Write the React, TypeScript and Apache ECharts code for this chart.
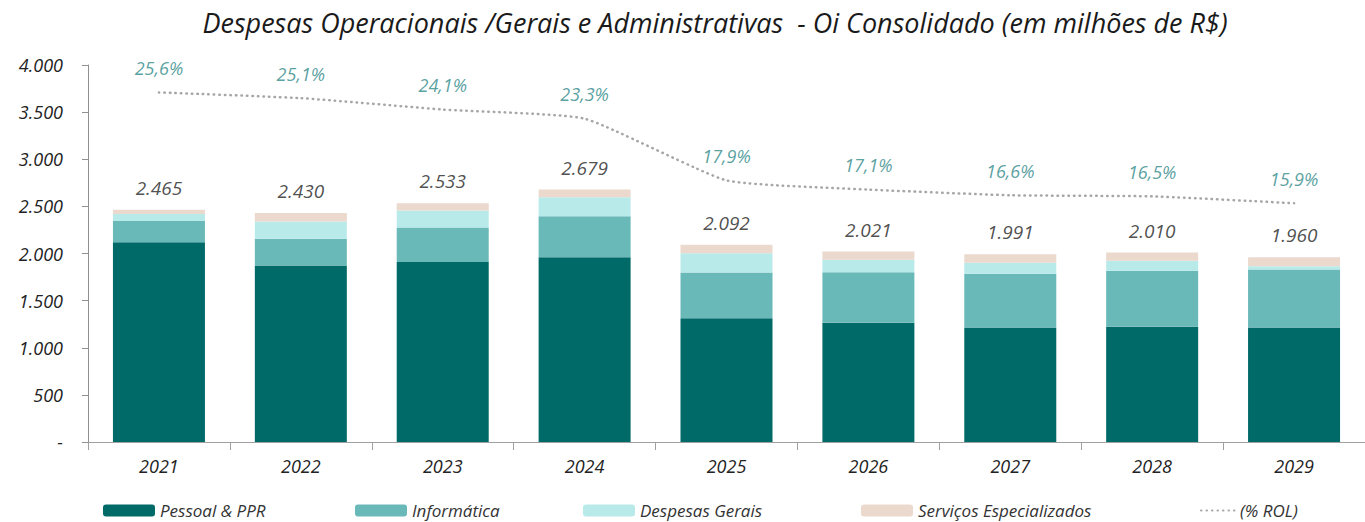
import React, { useEffect, useRef } from "react";
import * as echarts from "echarts";

const categories = ["2021", "2022", "2023", "2024", "2025", "2026", "2027", "2028", "2029"];
const pessoal = [2120, 1872, 1911, 1961, 1312, 1266, 1216, 1223, 1216];
const informatica = [224, 284, 366, 433, 486, 535, 568, 593, 614];
const despesasGerais = [74, 184, 180, 202, 205, 132, 117, 106, 35];
const servicos = [47, 90, 76, 83, 89, 88, 90, 88, 95];
const rol = [25.6, 25.1, 24.1, 23.3, 17.9, 17.1, 16.6, 16.5, 15.9];
const yTicks = [0, 500, 1000, 1500, 2000, 2500, 3000, 3500, 4000];

const FONT = "Open Sans";
const fmtNum = (v: number) => String(Math.round(v)).replace(/\B(?=(\d{3})+(?!\d))/g, ".");
const fmtPct = (v: number) => v.toFixed(1).replace(".", ",") + "%";

export default function App() {
  const ref = useRef<HTMLDivElement>(null);
  useEffect(() => {
    if (!ref.current) return;
    const chart = echarts.init(ref.current, undefined, { renderer: "svg" });
    const totals = categories.map((_, i) => pessoal[i] + informatica[i] + despesasGerais[i] + servicos[i]);
    const legendText = { fontFamily: FONT, fontStyle: "italic", fontSize: 17, color: "#333" };
    const mkLegend = (name: string, left: number, w = 52, extra: any = {}) => ({
      data: [name],
      left,
      top: 502,
      padding: 0,
      itemWidth: w,
      itemHeight: 12,
      itemGap: 0,
      textStyle: legendText,
      selectedMode: false,
      ...extra,
    });
    const barCommon = { type: "bar", stack: "total", barWidth: 92, emphasis: { disabled: true } };
    chart.setOption({
      animation: false,
      graphic: [
        {
          type: "text",
          x: 715,
          y: 9,
          style: {
            text: "Despesas Operacionais /Gerais e Administrativas  - Oi Consolidado (em milhões de R$)",
            textAlign: "center",
            fontFamily: FONT,
            fontStyle: "italic",
            fontSize: 27,
            fill: "#1a1a1a",
          },
        },
      ],
      legend: [
        mkLegend("Pessoal & PPR", 103),
        mkLegend("Informática", 355),
        mkLegend("Despesas Gerais", 583),
        mkLegend("Serviços Especializados", 861),
        mkLegend("(% ROL)", 1200, 34, { itemStyle: { opacity: 0 } }),
      ],
      grid: { left: 88, right: -17, top: 65, bottom: 80 },
      xAxis: {
        type: "category",
        data: categories,
        axisLine: { lineStyle: { color: "#a0a0a0", width: 1 } },
        axisTick: { show: true, length: 8, lineStyle: { color: "#a0a0a0" } },
        axisLabel: { fontFamily: FONT, fontStyle: "italic", fontSize: 18, color: "#222", margin: 15 },
      },
      yAxis: [
        {
          type: "value",
          min: 0,
          max: 4000,
          interval: 500,
          splitLine: { show: false },
          axisLine: { show: true, lineStyle: { color: "#909090" } },
          axisTick: { show: true, length: 6, lineStyle: { color: "#909090" } },
          axisLabel: {
            fontFamily: FONT,
            fontStyle: "italic",
            fontSize: 18,
            color: "#222",
            margin: 25,
            customValues: yTicks,
            formatter: (v: number) => (v === 0 ? "-" : fmtNum(v)),
          },
        },
        { type: "value", min: -5, max: 28, show: false, splitLine: { show: false } },
      ],
      series: [
        { ...barCommon, name: "Pessoal & PPR", data: pessoal, itemStyle: { color: "#006a68" } },
        { ...barCommon, name: "Informática", data: informatica, itemStyle: { color: "#6ab9b9" } },
        { ...barCommon, name: "Despesas Gerais", data: despesasGerais, itemStyle: { color: "#b9eaea" } },
        { ...barCommon, name: "Serviços Especializados", data: servicos, itemStyle: { color: "#ebd9ce" } },
        {
          type: "scatter",
          name: "totals",
          data: totals,
          symbolSize: 1,
          itemStyle: { color: "rgba(0,0,0,0)" },
          silent: true,
          label: {
            show: true,
            position: "top",
            distance: 12,
            fontFamily: FONT,
            fontStyle: "italic",
            fontSize: 19,
            color: "#222",
            formatter: (p: any) => fmtNum(p.value),
          },
        },
        {
          type: "line",
          name: "(% ROL)",
          yAxisIndex: 1,
          data: rol,
          symbol: "none",
          smooth: 0.15,
          lineStyle: { color: "#a6a6a6", width: 2.5, type: [0.5, 5], cap: "round" },
          itemStyle: { color: "#a6a6a6" },
        },
        {
          type: "scatter",
          name: "pctLabels",
          yAxisIndex: 1,
          data: rol,
          symbolSize: 1,
          itemStyle: { color: "rgba(0,0,0,0)" },
          silent: true,
          label: {
            show: true,
            position: "top",
            distance: 15,
            fontFamily: FONT,
            fontStyle: "italic",
            fontSize: 18,
            color: "#2e8888",
            formatter: (p: any) => fmtPct(p.value),
          },
        },
      ],
    });
    return () => chart.dispose();
  }, []);
  return (
    <div
      ref={ref}
      style={{ position: "fixed", left: 0, top: 0, width: 1365, height: 522, background: "#fff" }}
    />
  );
}
